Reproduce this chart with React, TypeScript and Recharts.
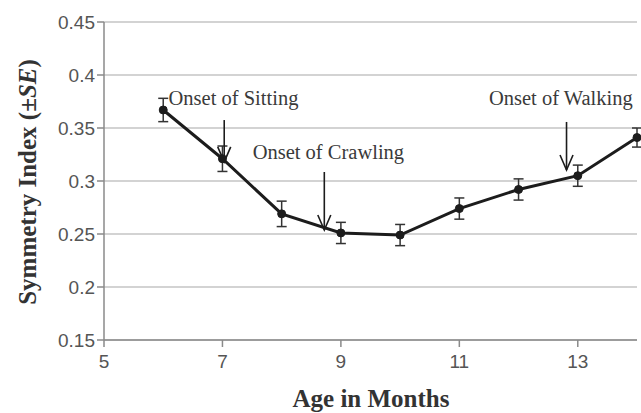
import React from 'react';
import {
  LineChart,
  Line,
  XAxis,
  YAxis,
  CartesianGrid,
  ErrorBar,
  ReferenceLine,
  ReferenceDot,
} from 'recharts';

// age in months, mean symmetry index and its standard error
const months = [6, 7, 8, 9, 10, 11, 12, 13, 14];
const symmetry = [0.367, 0.321, 0.269, 0.251, 0.249, 0.274, 0.292, 0.305, 0.341];
const stdErr = [0.011, 0.012, 0.012, 0.01, 0.01, 0.01, 0.01, 0.01, 0.009];

const xTicks = [5, 7, 9, 11, 13];
const yTicks = [0.15, 0.2, 0.25, 0.3, 0.35, 0.4, 0.45];

// milestone annotations, in data units
const milestones = ['Onset of Sitting', 'Onset of Crawling', 'Onset of Walking'];
const labelX = [6.09, 7.51, 11.5];
const labelY = [0.3783, 0.3274, 0.3783];
const arrowX = [7.03, 8.72, 12.81];
const arrowTop = [0.3575, 0.3085, 0.3557];
const arrowTip = [0.318, 0.2538, 0.3104];

const data = months.map((m, i) => ({ month: m, value: symmetry[i], se: stdErr[i] }));

const SERIF = '"Liberation Serif", "Times New Roman", serif';
const SANS = '"Liberation Sans", Arial, sans-serif';
const INK = '#1c1c1c';

const ArrowHead = (props: any) => {
  const { cx, cy } = props;
  return (
    <path
      d={`M${cx - 6.5},${cy - 15} L${cx},${cy} L${cx + 6.5},${cy - 15}`}
      fill="none"
      stroke={INK}
      strokeWidth={1.6}
    />
  );
};

const labelShape = (text: string) => (props: any) => (
  <text
    x={props.cx}
    y={props.cy}
    dy="0.35em"
    fontFamily={SERIF}
    fontSize={20.5}
    fill="#3a3a3a"
  >
    {text}
  </text>
);

export default function App() {
  return (
    <div style={{ position: 'absolute', left: 0, top: 0, background: '#fff' }}>
      <LineChart
        width={641}
        height={413}
        data={data}
        margin={{ top: 22, right: 4, bottom: 0, left: 0 }}
      >
        <CartesianGrid vertical={false} stroke="#c4c4c4" strokeWidth={1.5} />
        <XAxis
          dataKey="month"
          type="number"
          domain={[5, 14]}
          ticks={xTicks}
          height={73}
          stroke="#8a8a8a"
          strokeWidth={1.5}
          tickSize={7}
          tickMargin={8}
          tick={{ fill: '#555', fontFamily: SANS, fontSize: 19 }}
          label={{
            content: () => (
              <text
                x={371}
                y={407}
                textAnchor="middle"
                fontFamily={SERIF}
                fontWeight="bold"
                fontSize={25}
                fill="#333"
              >
                Age in Months
              </text>
            ),
          }}
        />
        <YAxis
          type="number"
          domain={[0.15, 0.45]}
          ticks={yTicks}
          width={104}
          stroke="#8a8a8a"
          strokeWidth={1.5}
          tickSize={7}
          tickMargin={2}
          tick={{ fill: '#555', fontFamily: SANS, fontSize: 19 }}
          label={{
            content: () => (
              <text
                x={27}
                y={182}
                transform="rotate(-90, 27, 182)"
                textAnchor="middle"
                dominantBaseline="central"
                fontFamily={SERIF}
                fontWeight="bold"
                fontSize={25}
                fill="#333"
              >
                <tspan>Symmetry Index (±</tspan>
                <tspan fontStyle="italic">SE</tspan>
                <tspan>)</tspan>
              </text>
            ),
          }}
        />
        <Line
          type="linear"
          dataKey="value"
          stroke={INK}
          strokeWidth={3}
          dot={{ r: 4, fill: INK, stroke: INK, strokeWidth: 1 }}
          activeDot={false}
          isAnimationActive={false}
        >
          <ErrorBar dataKey="se" direction="y" width={5} stroke="#333" strokeWidth={1.5} />
        </Line>
        {milestones.map((m, i) => (
          <ReferenceLine
            key={`shaft-${m}`}
            segment={[
              { x: arrowX[i], y: arrowTop[i] },
              { x: arrowX[i], y: arrowTip[i] },
            ]}
            stroke={INK}
            strokeWidth={1.6}
            ifOverflow="visible"
          />
        ))}
        {milestones.map((m, i) => (
          <ReferenceDot
            key={`head-${m}`}
            x={arrowX[i]}
            y={arrowTip[i]}
            r={0}
            shape={ArrowHead}
            ifOverflow="visible"
          />
        ))}
        {milestones.map((m, i) => (
          <ReferenceDot
            key={`label-${m}`}
            x={labelX[i]}
            y={labelY[i]}
            r={0}
            shape={labelShape(m)}
            ifOverflow="visible"
          />
        ))}
      </LineChart>
    </div>
  );
}
